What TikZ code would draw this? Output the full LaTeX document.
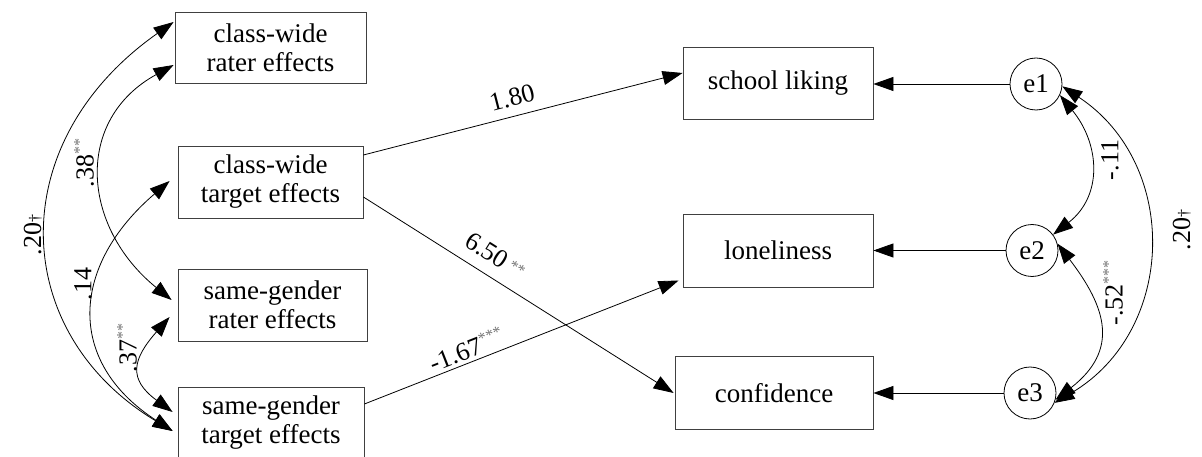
\documentclass[tikz,border=0pt]{standalone}
\usepackage{fontspec}
\setmainfont{Liberation Serif}
\usetikzlibrary{arrows.meta,calc}
\newcommand\sig[1]{\raisebox{9pt}{\fontsize{16}{16}\selectfont\color{black!55}#1}}
\newcommand\sigl[1]{\raisebox{4pt}{\fontsize{16}{16}\selectfont\color{black!55}#1}}
\newcommand\dg{\raisebox{1pt}{\fontsize{16}{16}\selectfont †}}
\tikzset{
  box/.style={draw=black!75, line width=0.8pt, align=center, inner sep=0pt,
    font=\fontsize{27}{29}\selectfont},
  err/.style={circle, draw=black, line width=0.8pt, minimum size=52pt, inner sep=0pt,
    font=\fontsize{27}{29}\selectfont},
  link/.style={line width=0.8pt, -{Triangle[length=20pt,width=14pt]}},
  cov/.style={line width=0.8pt, {Triangle[length=20pt,width=14pt]}-{Triangle[length=20pt,width=14pt]}},
  lab/.style={font=\fontsize{26}{28}\selectfont, inner sep=0pt},
}
\begin{document}
\begin{tikzpicture}[x=1pt,y=-1pt]
\useasboundingbox (0,0) rectangle (1202,457);
% left boxes
\node[box, minimum width=191pt, minimum height=71pt] (cwr) at (270.5,47.5) {class-wide\\rater effects};
\node[box, minimum width=185pt, minimum height=72pt] (cwt) at (270.5,182) {class-wide\\target effects};
\node[box, minimum width=189pt, minimum height=72pt] (sgr) at (272.5,305) {same-gender\\rater effects};
\node[box, minimum width=186pt, minimum height=72pt] (sgt) at (271,423) {same-gender\\target effects};
% right boxes
\node[box, minimum width=190pt, minimum height=72pt] (sl) at (778,83) {school liking};
\node[box, minimum width=190pt, minimum height=73pt] (lon) at (778,250.5) {loneliness};
\node[box, minimum width=198pt, minimum height=73pt] (conf) at (774,393) {confidence};
% error terms
\node[err] (e1) at (1036,84) {e1};
\node[err] (e2) at (1032,250.5) {e2};
\node[err] (e3) at (1030,393) {e3};
% error paths
\draw[link] (e1) -- (e1 -| sl.east);
\draw[link] (e2) -- (lon);
\draw[link] (e3) -- (conf);
% regression paths
\draw[link] ([yshift=27pt]cwt.east) -- node[lab, sloped, above=9pt, pos=0.48] (l180) {1.80} ([yshift=10pt]sl.west);
\draw[link] ([yshift=-15pt]cwt.east) -- node[lab, sloped, above=12pt, pos=0.39] (l650) {6.50\,\sigl{**}} ([xshift=-1pt]conf.west);
\draw[link] ([yshift=19pt]sgt.east) -- node[lab, sloped, above=3pt, pos=0.34] (l167) {-1.67\sig{***}} ([xshift=-4pt,yshift=-30pt]lon.west);
% left covariances
\draw[cov] ([xshift=-1pt,yshift=25.5pt]cwr.west) .. controls +(-172,121) and +(-163,-98) .. ([xshift=-5pt,yshift=-8pt]sgt.west);
\draw[cov] ([xshift=-1pt,yshift=-17.5pt]cwr.west) .. controls +(-100,55) and +(-90,-73) .. ([xshift=-6pt,yshift=5pt]sgr.west);
\draw[cov] ([xshift=-8pt,yshift=1pt]cwt.west) .. controls +(-98,84) and +(-108,-70) .. ([xshift=-5pt,yshift=-8pt]sgt.west);
\draw[cov] ([xshift=-8pt,yshift=-12pt]sgr.west) .. controls +(-37,42) and +(-45,-33) .. ([xshift=-5pt,yshift=11pt]sgt.west);
% right covariances
\draw[cov] (e1.-25) .. controls +(40,49) and +(50,-39) .. (e2.37);
\draw[cov] (e2.15) .. controls +(49,64) and +(64,-50) .. (e3.-15);
\draw[cov] (e1.-5) .. controls +(118,78) and +(122,-72) .. (e3.-22);
% covariance labels
\node[lab, rotate=90] (c20l) at (33,235) {.20\dg};
\node[lab, rotate=90] (c38) at (84,163) {.38\sig{**}};
\node[lab, rotate=90] (c14) at (83,284) {.14};
\node[lab, rotate=90] (c37) at (127,348) {.37\sig{**}};
\node[lab, rotate=90] (c11) at (1110,160) {-.11};
\node[lab, rotate=90] (c52) at (1113,293) {-.52\sig{***}};
\node[lab, rotate=90] (c20r) at (1182,230) {.20\dg};
\end{tikzpicture}
\end{document}
